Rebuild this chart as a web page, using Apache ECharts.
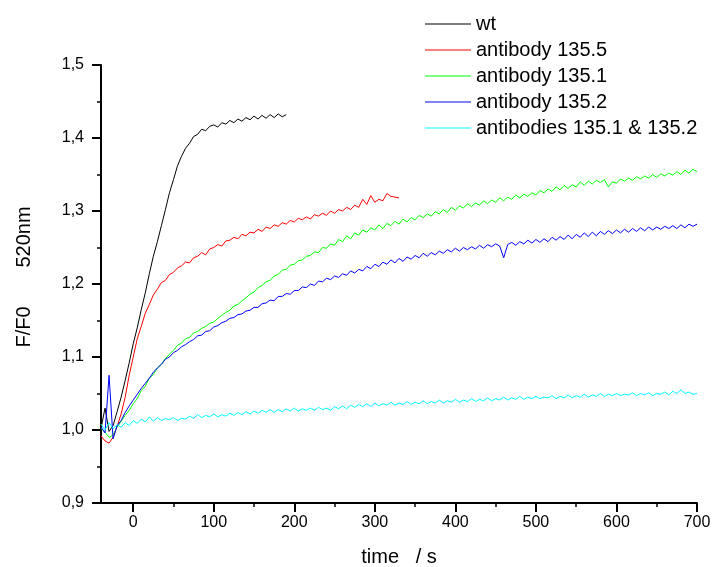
<!DOCTYPE html>
<html>
<head>
<meta charset="utf-8">
<script src="https://cdn.jsdelivr.net/npm/echarts@6/dist/echarts.min.js"></script>
<style>html,body{margin:0;padding:0;background:#fff}#c{width:715px;height:567px}</style>
</head>
<body>
<div id="c"></div>
<script>
// time grid: first sample at T0, one sample every STEP seconds
const T0 = -40;
const STEP = 5;
const seriesNames = ['wt', 'antibody 135.5', 'antibody 135.1', 'antibody 135.2', 'antibodies 135.1 & 135.2'];
const xTicks = [0, 100, 200, 300, 400, 500, 600, 700];
const xMinorTicks = [50, 150, 250, 350, 450, 550, 650];
const yTicks = [0.9, 1.0, 1.1, 1.2, 1.3, 1.4, 1.5];
const yMinorTicks = [0.95, 1.05, 1.15, 1.25, 1.35, 1.45];

// wt: -40 .. 190 s
const wt = [1.002,1.030,0.998,1.006,1.025,1.045,1.068,1.092,1.118,1.140,1.165,1.188,1.214,1.238,1.258,1.280,1.302,1.325,1.343,1.362,1.375,1.386,1.393,1.402,1.405,1.412,1.410,1.416,1.418,1.415,1.421,1.419,1.424,1.421,1.426,1.423,1.428,1.425,1.430,1.426,1.431,1.427,1.432,1.428,1.433,1.429,1.432];

// antibody 135.5: -40 .. 330 s
const ab1355 = [0.992,0.985,0.982,0.990,1.005,1.022,1.045,1.075,1.100,1.125,1.142,1.160,1.172,1.185,1.193,1.202,1.205,1.213,1.216,1.222,1.225,1.230,1.229,1.236,1.238,1.243,1.240,1.248,1.250,1.254,1.252,1.259,1.260,1.264,1.262,1.268,1.266,1.271,1.270,1.275,1.272,1.278,1.276,1.281,1.279,1.284,1.282,1.287,1.285,1.290,1.288,1.292,1.289,1.295,1.293,1.297,1.294,1.300,1.297,1.302,1.300,1.305,1.302,1.308,1.305,1.316,1.309,1.321,1.312,1.316,1.314,1.324,1.320,1.319,1.318];

// antibody 135.1: -40 .. 700 s
const ab1351 = [1.002,0.997,0.990,0.993,1.004,1.012,1.020,1.027,1.036,1.043,1.054,1.060,1.071,1.076,1.085,1.090,1.098,1.104,1.109,1.116,1.119,1.125,1.127,1.133,1.135,1.139,1.142,1.146,1.148,1.153,1.157,1.161,1.164,1.170,1.172,1.177,1.181,1.186,1.189,1.195,1.198,1.203,1.205,1.211,1.213,1.219,1.220,1.226,1.227,1.232,1.233,1.238,1.239,1.244,1.243,1.250,1.249,1.255,1.253,1.261,1.258,1.266,1.262,1.270,1.267,1.274,1.271,1.277,1.274,1.281,1.276,1.283,1.280,1.286,1.282,1.289,1.285,1.291,1.288,1.294,1.291,1.296,1.293,1.299,1.296,1.302,1.298,1.305,1.301,1.307,1.304,1.310,1.306,1.311,1.308,1.314,1.310,1.315,1.312,1.318,1.314,1.319,1.316,1.322,1.318,1.323,1.320,1.325,1.322,1.328,1.325,1.330,1.327,1.333,1.329,1.335,1.331,1.336,1.333,1.340,1.335,1.341,1.337,1.342,1.339,1.343,1.333,1.340,1.338,1.344,1.341,1.345,1.342,1.347,1.344,1.348,1.345,1.350,1.346,1.351,1.348,1.352,1.349,1.354,1.350,1.356,1.352,1.357,1.354];

// antibody 135.2: -40 .. 700 s
const ab1352 = [1.004,0.996,1.075,0.988,1.006,1.013,1.024,1.033,1.041,1.049,1.057,1.064,1.071,1.079,1.085,1.090,1.097,1.100,1.106,1.109,1.114,1.117,1.121,1.124,1.129,1.130,1.135,1.136,1.141,1.143,1.147,1.149,1.153,1.154,1.158,1.159,1.163,1.164,1.168,1.168,1.173,1.174,1.178,1.177,1.183,1.183,1.187,1.186,1.191,1.191,1.196,1.195,1.200,1.198,1.204,1.203,1.208,1.206,1.211,1.209,1.214,1.212,1.218,1.215,1.220,1.218,1.224,1.221,1.227,1.224,1.230,1.227,1.233,1.229,1.235,1.231,1.237,1.234,1.239,1.236,1.242,1.238,1.243,1.240,1.245,1.242,1.247,1.244,1.249,1.245,1.250,1.247,1.251,1.248,1.253,1.249,1.254,1.251,1.255,1.252,1.236,1.254,1.257,1.253,1.258,1.255,1.260,1.256,1.261,1.257,1.262,1.258,1.264,1.260,1.265,1.261,1.267,1.262,1.268,1.264,1.270,1.265,1.271,1.266,1.272,1.268,1.273,1.269,1.274,1.270,1.275,1.271,1.276,1.272,1.277,1.273,1.278,1.274,1.278,1.275,1.279,1.276,1.280,1.276,1.281,1.277,1.282,1.279,1.282];

// antibodies 135.1 & 135.2: -40 .. 700 s
const abBoth = [1.008,1.000,1.010,1.002,1.007,1.004,1.010,1.006,1.013,1.009,1.015,1.011,1.018,1.012,1.017,1.013,1.016,1.014,1.017,1.013,1.016,1.015,1.019,1.016,1.021,1.017,1.020,1.018,1.022,1.018,1.021,1.019,1.023,1.020,1.024,1.021,1.025,1.022,1.026,1.023,1.027,1.024,1.028,1.024,1.028,1.025,1.029,1.026,1.030,1.026,1.029,1.027,1.030,1.027,1.031,1.028,1.030,1.027,1.032,1.029,1.033,1.029,1.034,1.031,1.035,1.032,1.036,1.032,1.037,1.033,1.036,1.034,1.038,1.034,1.037,1.035,1.039,1.035,1.038,1.036,1.040,1.036,1.039,1.037,1.041,1.037,1.040,1.038,1.042,1.038,1.041,1.039,1.043,1.039,1.042,1.040,1.044,1.040,1.043,1.041,1.045,1.041,1.044,1.042,1.046,1.042,1.045,1.043,1.046,1.043,1.045,1.044,1.047,1.043,1.046,1.044,1.048,1.044,1.047,1.045,1.049,1.045,1.048,1.046,1.050,1.046,1.049,1.047,1.050,1.047,1.049,1.048,1.051,1.047,1.050,1.048,1.051,1.047,1.050,1.049,1.052,1.048,1.053,1.050,1.055,1.050,1.052,1.049,1.050];

const colors = ['#000000', '#ff0000', '#00ff00', '#0000ff', '#00ffff'];
const allValues = [wt, ab1355, ab1351, ab1352, abBoth];

function pairs(vals) { return vals.map((v, i) => [T0 + i * STEP, v]); }

const FONT = 'Liberation Sans, Arial, sans-serif';
const chart = echarts.init(document.getElementById('c'), null, { renderer: 'canvas' });

const axisLineStyle = { color: '#000', width: 2 };

chart.setOption({
  animation: false,
  backgroundColor: '#fff',
  grid: { left: 101, right: 18, top: 65, bottom: 64, containLabel: false, outerBoundsMode: 'none' },
  legend: {
    orient: 'vertical',
    left: 420,
    top: 9,
    icon: 'rect',
    itemWidth: 46,
    itemHeight: 1,
    itemGap: 6,
    textStyle: { fontFamily: FONT, fontSize: 20, color: '#000', lineHeight: 20, padding: [0, 0, 0, 0] },
    data: seriesNames
  },
  xAxis: [
    {
      type: 'value', min: -40, max: 700, position: 'bottom',
      name: 'time   / s', nameLocation: 'middle', nameGap: 44,
      nameTextStyle: { fontFamily: FONT, fontSize: 20, color: '#000' },
      axisLine: { show: true, onZero: false, lineStyle: axisLineStyle },
      axisTick: { show: true, inside: false, length: 9, lineStyle: axisLineStyle, customValues: xTicks },
      axisLabel: { show: true, margin: 12, fontFamily: FONT, fontSize: 16, color: '#000', customValues: xTicks },
      splitLine: { show: false }
    },
    {
      type: 'value', min: -40, max: 700, position: 'bottom', gridIndex: 0,
      axisLine: { show: false, onZero: false },
      axisTick: { show: true, inside: false, length: 4, lineStyle: { color: '#000', width: 1.5 }, customValues: xMinorTicks },
      axisLabel: { show: false },
      splitLine: { show: false }
    }
  ],
  yAxis: [
    {
      type: 'value', min: 0.9, max: 1.5, position: 'left',
      axisLine: { show: true, onZero: false, lineStyle: axisLineStyle },
      axisTick: { show: true, inside: false, length: 9, lineStyle: axisLineStyle, customValues: yTicks },
      axisLabel: {
        show: true, margin: 17, fontFamily: FONT, fontSize: 16, color: '#000', customValues: yTicks,
        formatter: v => v.toFixed(1).replace('.', ',')
      },
      splitLine: { show: false }
    },
    {
      type: 'value', min: 0.9, max: 1.5, position: 'left', gridIndex: 0,
      axisLine: { show: false, onZero: false },
      axisTick: { show: true, inside: false, length: 4, lineStyle: { color: '#000', width: 1.5 }, customValues: yMinorTicks },
      axisLabel: { show: false },
      splitLine: { show: false }
    }
  ],
  graphic: [{
    type: 'text',
    x: 24, y: 277,
    rotation: Math.PI / 2,
    style: { text: 'F/F0       520nm', font: '20px ' + FONT, fill: '#000', align: 'center', verticalAlign: 'middle' }
  }],
  series: seriesNames.map((n, k) => ({
    name: n,
    type: 'line',
    xAxisIndex: 0, yAxisIndex: 0,
    showSymbol: false,
    symbol: 'none',
    color: colors[k],
    lineStyle: { color: colors[k], width: 1 },
    data: pairs(allValues[k])
  }))
});
</script>
</body>
</html>
